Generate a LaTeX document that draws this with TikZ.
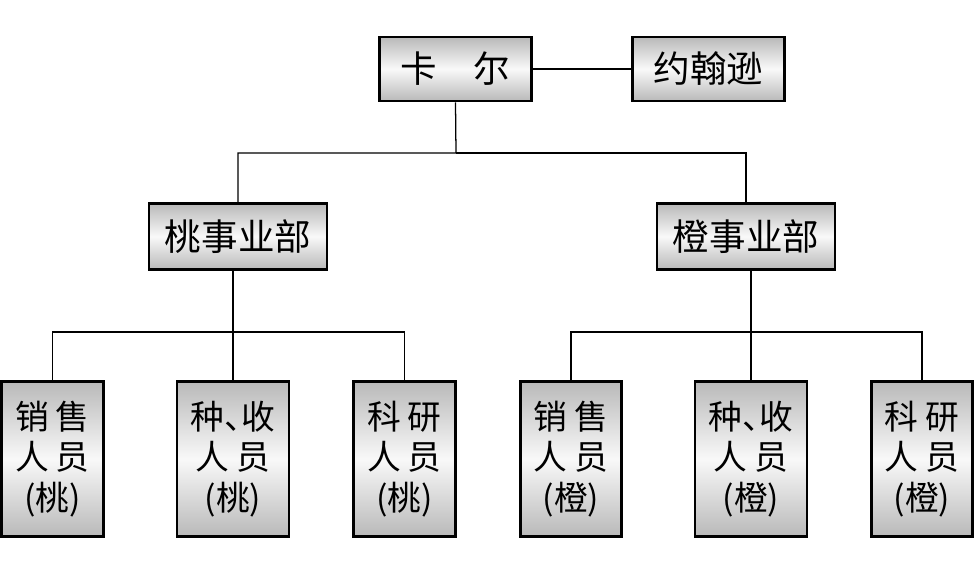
\documentclass[tikz,border=0pt]{standalone}
\usepackage{fontspec}
\setmainfont{Noto Sans CJK SC}
\usepackage{tikz}

\begin{document}
\begin{tikzpicture}[x=0.025cm,y=-0.025cm,
box/.style={draw,line width=2pt,top color=gray!55,bottom color=gray!55,middle color=gray!5,inner sep=0pt,align=center,font=\fontsize{26}{28}\selectfont},
head/.style={box,minimum width=3.78cm,minimum height=1.6cm},
dept/.style={box,minimum width=4.45cm,minimum height=1.63cm},
staff/.style={box,minimum width=2.53cm,minimum height=3.88cm,font=\fontsize{24}{29}\selectfont},
link/.style={line width=0.9pt}]
\useasboundingbox(0,0)rectangle(975,573);
\node[head](karl)at(455.5,69){卡\hspace{1em}尔};
\node[head](john)at(708.5,69){约翰逊};
\node[dept](peach)at(238,236.5){桃事业部};
\node[dept](orange)at(746,236.5){橙事业部};
\node[staff](p1)at(52.5,459){销\hspace{0.2em}售\\人\hspace{0.2em}员\\(桃)};
\node[staff,minimum width=2.8cm](p2)at(233,459){种、\hspace{-0.5em}收\\人\hspace{0.2em}员\\(桃)};
\node[staff](p3)at(404.5,459){科\hspace{0.2em}研\\人\hspace{0.2em}员\\(桃)};
\node[staff](o1)at(571,459){销\hspace{0.2em}售\\人\hspace{0.2em}员\\(橙)};
\node[staff,minimum width=2.8cm](o2)at(751,459){种、\hspace{-0.5em}收\\人\hspace{0.2em}员\\(橙)};
\node[staff](o3)at(922,459){科\hspace{0.2em}研\\人\hspace{0.2em}员\\(橙)};
\coordinate(top)at(456,153);
\coordinate(pbar)at(233,332);
\coordinate(obar)at(751,332);
\draw[link](karl)--(john);
\draw[link](karl.south)--(top)-|(peach.north);
\draw[link](top)-|(orange.north);
\draw[link](peach.south-|p2.north)--(p2.north);
\draw[link](p1.north)|-(pbar)-|(p3.north);
\draw[link](orange.south-|o2.north)--(o2.north);
\draw[link](o1.north)|-(obar)-|(o3.north);
\end{tikzpicture}
\end{document}
